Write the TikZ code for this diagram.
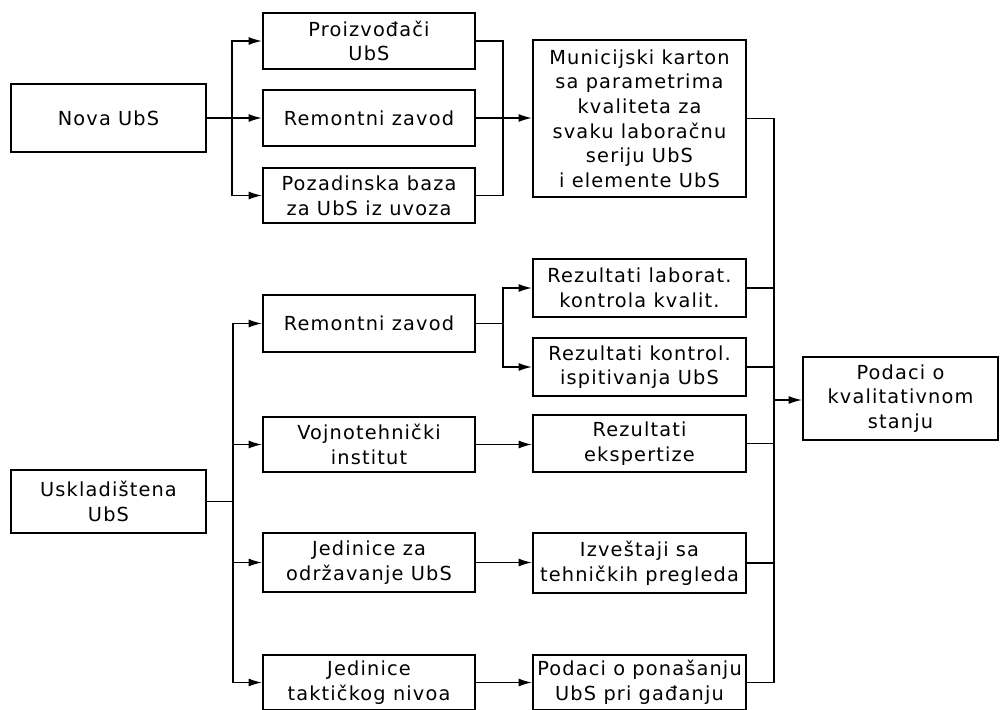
\documentclass[tikz,border=0pt]{standalone}
\usepackage{fontspec}
\setmainfont{DejaVu Sans}[LetterSpace=6]
\usetikzlibrary{arrows.meta}

\begin{document}
\begin{tikzpicture}[
  x=0.75pt, y=-0.75pt,
  font=\fontsize{14.5}{18.5}\selectfont,
  box/.style={draw, line width=1.6pt, align=center, inner sep=0pt,
              minimum width=159pt, minimum height=42pt},
  src/.style={box, minimum width=146.25pt},
  res/.style={box, minimum width=159.75pt},
  arr/.style={-{Latex[length=10pt,width=6pt]}, line width=1.1pt},
  ln/.style={line width=1.1pt}]

\useasboundingbox (0,0) rectangle (1000,710);

% ---- sources ----
\node[src, minimum height=51pt] (nova) at (108.5,118) {Nova UbS};
\node[src, minimum height=47.25pt] (usk) at (108.5,501.5) {Uskladištena\\UbS};

% ---- middle column ----
\node[box] (proiz) at (369,41) {Proizvođači\\UbS};
\node[box] (remA) at (369,118) {Remontni zavod};
\node[box, minimum height=41.25pt] (poz) at (369,195.5) {Pozadinska baza\\za UbS iz uvoza};
\node[box, minimum height=42.75pt] (remB) at (369,323.5) {Remontni zavod};
\node[box, minimum height=41.25pt] (vojno) at (369,444.5) {Vojnotehnički\\institut};
\node[box, minimum height=44.25pt] (jedA) at (369,562.5) {Jedinice za\\održavanje UbS};
\node[box, minimum height=41.25pt] (jedB) at (369,682.5) {Jedinice\\taktičkog nivoa};

% ---- results column ----
\node[res, minimum height=117.75pt] (mun) at (639.5,118.5)
  {Municijski karton\\sa parametrima\\kvaliteta za\\svaku laboračnu\\seriju UbS\\i elemente UbS};
\node[res, minimum height=43.5pt] (rezA) at (639.5,288) {Rezultati laborat.\\kontrola kvalit.};
\node[res, minimum height=43.5pt] (rezB) at (639.5,367) {Rezultati kontrol.\\ispitivanja UbS};
\node[res, minimum height=42.75pt] (rezE) at (639.5,443.5) {Rezultati\\ekspertize};
\node[res, minimum height=45pt] (izv) at (639.5,563) {Izveštaji sa\\tehničkih pregleda};
\node[res, minimum height=41.25pt] (podP) at (639.5,682.5) {Podaci o ponašanju\\UbS pri gađanju};

% ---- output ----
\node[src, minimum height=62.25pt] (podaci) at (900.5,398.5) {Podaci o\\kvalitativnom\\stanju};

% ---- bus points ----
\coordinate (busA) at (232,118);
\coordinate (busB) at (503,118);
\coordinate (busC) at (774,400);
\coordinate (busD) at (233,501.5);
\coordinate (busE) at (503,323.5);

% ---- nova UbS ----
\draw[arr] (nova.east) -- (nova.east -| remA.west);
\draw[arr] (busA) |- (proiz.west);
\draw[arr] (busA) |- (poz.west);
\draw[ln] (proiz.east) -| (busB) |- (poz.east);
\draw[arr] (remA.east) -- (remA.east -| mun.west);

% ---- uskladistena UbS ----
\draw[ln] (usk.east) -- (busD);
\draw[arr] (busD) |- (remB.west);
\draw[arr] (busD) |- (jedB.west);
\draw[arr] (busD |- vojno.west) -- (vojno.west);
\draw[arr] (busD |- jedA.west) -- (jedA.west);

\draw[ln] (remB.east) -- (busE);
\draw[arr] (busE) |- (rezA.west);
\draw[arr] (busE) |- (rezB.west);
\draw[arr] (vojno.east) -- (vojno.east -| rezE.west);
\draw[arr] (jedA.east) -- (jedA.east -| izv.west);
\draw[arr] (jedB.east) -- (podP.west);

% ---- collector ----
\draw[ln] (mun.east) -| (busC) |- (podP.east);
\draw[ln] (rezA.east) -- (rezA.east -| busC);
\draw[ln] (rezB.east) -- (rezB.east -| busC);
\draw[ln] (rezE.east) -- (rezE.east -| busC);
\draw[ln] (izv.east) -- (izv.east -| busC);
\draw[arr] (busC) -- (busC -| podaci.west);
\end{tikzpicture}
\end{document}
